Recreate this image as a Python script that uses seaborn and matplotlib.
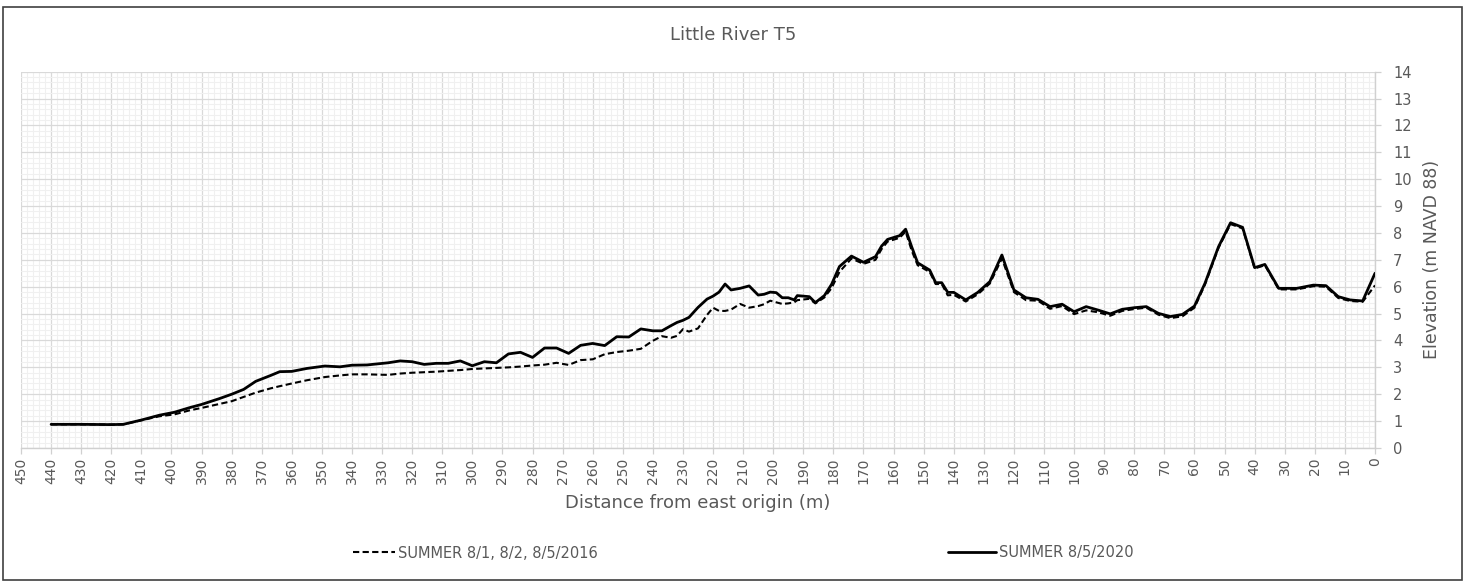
import numpy as np
import pandas as pd
import matplotlib
matplotlib.use("Agg")
import matplotlib.pyplot as plt
from matplotlib.ticker import MultipleLocator, FixedLocator
from matplotlib.patches import Rectangle
import seaborn as sns

# ---- data ----
distance_m = [440, 430, 420, 416, 410, 404, 399, 394, 390, 384, 380, 376, 372, 367,
              364, 360, 355, 349, 344, 340, 335, 328, 324, 320, 316, 312, 308, 304,
              300, 296, 292, 288, 284, 280, 276, 272, 268, 264, 260, 256, 252, 248,
              244, 240, 237, 234, 232, 230, 228, 225, 222, 220, 218, 216, 214, 211,
              208, 205, 203, 201, 199, 197, 195, 193, 192, 188, 186, 183, 180.6, 178,
              174, 170, 166, 164, 162, 158, 156, 154, 152, 148, 146, 144, 142, 140,
              136, 132, 128, 124, 120, 116, 112, 108, 104, 100, 96, 92, 88, 84, 80,
              76, 72, 68, 64, 60, 56.5, 52, 48, 44, 40, 36.6, 32, 26, 20.5, 16.3,
              12.2, 8.3, 4.1, 0]

elev_2020 = [0.88, 0.88, 0.87, 0.88, 1.04, 1.22, 1.33, 1.50, 1.62, 1.84, 2.00, 2.18, 2.48, 2.70,
             2.84, 2.85, 2.96, 3.05, 3.02, 3.08, 3.09, 3.17, 3.24, 3.21, 3.11, 3.15, 3.15, 3.24,
             3.06, 3.21, 3.17, 3.50, 3.56, 3.37, 3.72, 3.72, 3.52, 3.82, 3.89, 3.81, 4.14, 4.13,
             4.43, 4.36, 4.36, 4.55, 4.67, 4.75, 4.86, 5.23, 5.54, 5.65, 5.80, 6.10, 5.88, 5.94,
             6.03, 5.69, 5.72, 5.80, 5.78, 5.59, 5.59, 5.51, 5.67, 5.63, 5.41, 5.67, 6.09, 6.75,
             7.14, 6.91, 7.12, 7.51, 7.76, 7.90, 8.14, 7.49, 6.89, 6.62, 6.15, 6.15, 5.79, 5.79,
             5.51, 5.79, 6.19, 7.18, 5.88, 5.59, 5.53, 5.26, 5.35, 5.07, 5.26, 5.13, 4.99, 5.16, 5.22,
             5.26, 5.01, 4.89, 4.97, 5.28, 6.13, 7.49, 8.38, 8.21, 6.71, 6.83, 5.94, 5.94, 6.06, 6.04,
             5.63, 5.51, 5.47, 6.50]

elev_2016 = [0.88, 0.88, 0.87, 0.88, 1.03, 1.18, 1.25, 1.40, 1.49, 1.64, 1.74, 1.90, 2.06, 2.22,
             2.30, 2.40, 2.52, 2.64, 2.70, 2.74, 2.74, 2.72, 2.77, 2.80, 2.82, 2.84, 2.87, 2.90,
             2.94, 2.96, 2.98, 3.00, 3.03, 3.07, 3.10, 3.17, 3.09, 3.27, 3.30, 3.49, 3.57, 3.62,
             3.69, 3.99, 4.16, 4.10, 4.17, 4.42, 4.33, 4.45, 4.95, 5.22, 5.10, 5.10, 5.15, 5.36,
             5.22, 5.28, 5.35, 5.48, 5.42, 5.36, 5.38, 5.42, 5.50, 5.55, 5.38, 5.60, 5.95, 6.55,
             7.05, 6.85, 7.00, 7.40, 7.68, 7.82, 8.05, 7.35, 6.80, 6.55, 6.10, 6.10, 5.68, 5.70,
             5.45, 5.72, 6.12, 7.05, 5.80, 5.50, 5.48, 5.18, 5.28, 4.98, 5.12, 5.05, 4.92, 5.10, 5.17,
             5.22, 4.96, 4.83, 4.90, 5.22, 6.08, 7.45, 8.33, 8.17, 6.68, 6.80, 5.90, 5.90, 6.02, 6.00,
             5.58, 5.47, 5.44, 6.05]

series_labels = ["SUMMER 8/1, 8/2, 8/5/2016", "SUMMER 8/5/2020"]
title_text = "Little River T5"
x_label = "Distance from east origin (m)"
y_label = "Elevation (m NAVD 88)"
x_ticks = list(range(0, 451, 10))
y_ticks = list(range(0, 15))

df16 = pd.DataFrame({"dist": distance_m, "elev": elev_2016})
df20 = pd.DataFrame({"dist": distance_m, "elev": elev_2020})

# ---- styling ----
sns.set_style("white")
plt.rcParams["font.family"] = ["DejaVu Sans"]
TXT = "#595959"
W, H = 1468, 584
fig = plt.figure(figsize=(W / 100, H / 100), dpi=100)
ax = fig.add_axes([21 / W, 1 - 448 / H, (1375 - 21) / W, (448 - 71.7) / H])

sns.lineplot(data=df16, x="dist", y="elev", ax=ax, color="black", linewidth=1.5,
             label=series_labels[0], estimator=None, sort=False)
sns.lineplot(data=df20, x="dist", y="elev", ax=ax, color="black", linewidth=2.0,
             label=series_labels[1], estimator=None, sort=False)
ax.lines[0].set_dashes((3, 1.6))
for ln in ax.lines:
    ln.set_zorder(5)
    ln.set_solid_joinstyle("round")

ax.set_xlim(450, 0)
ax.set_ylim(0, 14)
ax.xaxis.set_major_locator(FixedLocator(x_ticks))
ax.set_xticks(x_ticks)
ax.set_xticklabels([str(t) for t in x_ticks], rotation=90)
ax.set_yticks(y_ticks)
ax.xaxis.set_minor_locator(MultipleLocator(2))
ax.yaxis.set_minor_locator(MultipleLocator(0.2))
ax.yaxis.tick_right()
ax.yaxis.set_label_position("right")

ax.grid(which="minor", color="#f0f0f0", linewidth=0.8, zorder=0)
ax.grid(which="major", color="#d9d9d9", linewidth=0.9, zorder=1)
ax.set_axisbelow(True)

for s in ["top", "left"]:
    ax.spines[s].set_visible(False)
for s in ["bottom", "right"]:
    ax.spines[s].set_color("#d0d0d0")
    ax.spines[s].set_linewidth(1.0)

ax.tick_params(axis="x", which="major", direction="out", length=4, width=0.9,
               color="#d0d0d0", labelsize=10, labelcolor=TXT, pad=3, bottom=True)
ax.tick_params(axis="y", which="major", direction="out", length=4, width=0.9,
               color="#d0d0d0", labelsize=10.5, labelcolor=TXT, pad=9, right=True, left=False)
ax.tick_params(which="minor", length=0)

ax.set_xlabel(x_label, fontsize=13, color=TXT, labelpad=7)
ax.set_ylabel(y_label, fontsize=12.5, color=TXT, labelpad=8)

fig.text(733 / W, 1 - 35 / H, title_text, ha="center", va="center", fontsize=13, color=TXT)

handles, labels = ax.get_legend_handles_labels()
ax.get_legend().remove()
leg1 = fig.legend([handles[0]], [labels[0]], loc="center left",
                  bbox_to_anchor=(340 / W, 1 - 553 / H), frameon=False, fontsize=10.5,
                  handlelength=2.9, handletextpad=0.2, labelcolor=TXT)
leg2 = fig.legend([handles[1]], [labels[1]], loc="center left",
                  bbox_to_anchor=(935 / W, 1 - 553 / H), frameon=False, fontsize=10.5,
                  handlelength=3.3, handletextpad=0.2, labelcolor=TXT)

fig.patches.append(Rectangle((2.5 / W, 4 / H), (1462 - 2.5) / W, (577 - 4) / H,
                             transform=fig.transFigure, fill=False,
                             edgecolor="#404040", linewidth=1.2))

fig.savefig("out.png", dpi=100)
